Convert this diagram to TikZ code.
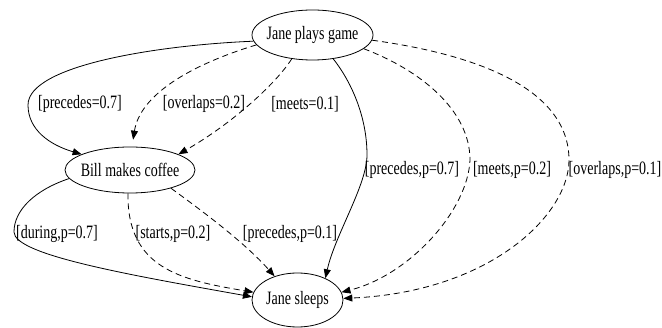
\documentclass[tikz,border=0pt]{standalone}
\usepackage{fontspec}
\usepackage{graphicx}
\setmainfont{Liberation Serif}
\usetikzlibrary{shapes.geometric,arrows.meta}
% narrow, tall lettering as used by the graph renderer
\newcommand\tallText[1]{\scalebox{1}[1.35]{#1}}
\begin{document}
\begin{tikzpicture}[x=1pt,y=-1pt,
  event/.style={ellipse,draw,line width=0.8pt,inner sep=0pt,
    font=\fontsize{14}{16}\selectfont},
  lbl/.style={inner sep=0pt,font=\fontsize{14}{16}\selectfont},
  rel/.style={line width=0.8pt,-{Triangle[length=9pt,width=7pt]}},
  alt/.style={rel,dash pattern=on 6pt off 4pt}]
\useasboundingbox (0,0) rectangle (662,328);

% events
\node[event,minimum width=121pt,minimum height=50pt] (jpg) at (312.5,35)
  {\makebox[0pt]{\tallText{Jane plays game}}};
\node[event,minimum width=130pt,minimum height=46pt] (bill) at (130,170)
  {\makebox[0pt]{\tallText{Bill makes coffee}}};
\node[event,minimum width=91pt,minimum height=54pt] (js) at (297.5,300)
  {\makebox[0pt]{\tallText{Jane sleeps}}};

% Jane plays game -> Bill makes coffee
\draw[rel] (jpg.186) .. controls (160,45) and (28,65) .. (28,105)
  .. controls (28,130) and (50,145) .. (bill.162);
\draw[alt,shorten >=7pt] (jpg.190) .. controls (190,65) and (140,95) .. (bill.85);
\draw[alt] (jpg.229) .. controls (275,85) and (230,125) .. (bill.18);

% Bill makes coffee -> Jane sleeps
\draw[rel] (bill.188) .. controls (35,190) and (14,210) .. (14,232)
  .. controls (14,255) and (130,275) .. (js.176);
\draw[alt] (bill.265) .. controls (127,268) and (180,280) .. (js.170);
\draw[alt] (bill.-24) .. controls (205,213) and (245,243) .. (js.134);

% Jane plays game -> Jane sleeps
\draw[rel] (jpg.-49) .. controls (350,80) and (367,115) .. (367,155)
  .. controls (367,185) and (335,235) .. (js.38);
\draw[alt] (jpg.-15) .. controls (420,70) and (470,110) .. (470,160)
  .. controls (468,210) and (410,275) .. (js.10);
\draw[alt] (jpg.-5) .. controls (480,55) and (569,90) .. (569,160)
  .. controls (569,215) and (490,292) .. (js.2);

% relation labels
\node[lbl] (l1) at (80,104) {\tallText{[precedes=0.7]}};
\node[lbl] (l2) at (204,104) {\tallText{[overlaps=0.2]}};
\node[lbl] (l3) at (305,104) {\tallText{[meets=0.1]}};
\node[lbl] (l4) at (57,234) {\tallText{[during,p=0.7]}};
\node[lbl] (l5) at (173,234) {\tallText{[starts,p=0.2]}};
\node[lbl] (l6) at (290,234) {\tallText{[precedes,p=0.1]}};
\node[lbl] (l7) at (412,170) {\tallText{[precedes,p=0.7]}};
\node[lbl] (l8) at (512,170) {\tallText{[meets,p=0.2]}};
\node[lbl] (l9) at (615,170) {\tallText{[overlaps,p=0.1]}};
\end{tikzpicture}
\end{document}
